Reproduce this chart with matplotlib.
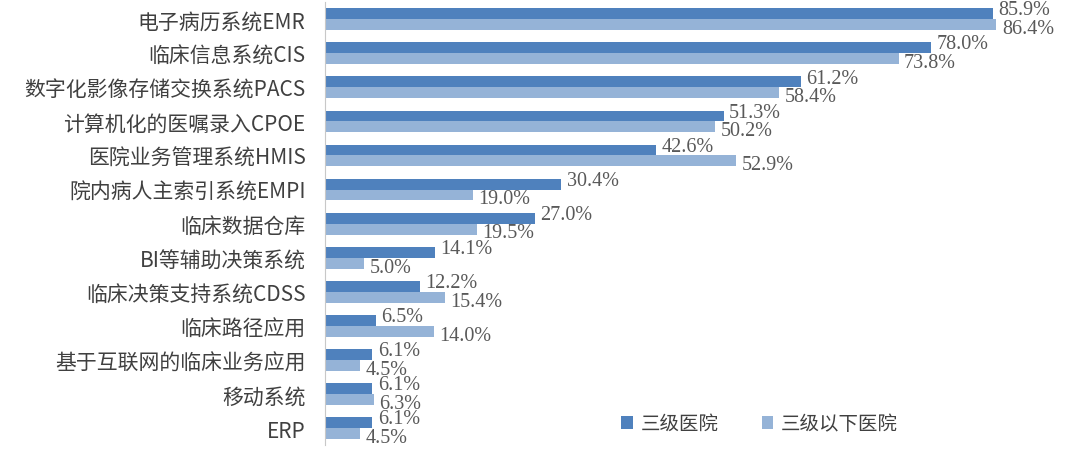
import matplotlib
matplotlib.use("Agg")
import matplotlib.pyplot as plt
import numpy as np

plt.rcParams['font.family'] = ['Noto Sans CJK SC', 'DejaVu Sans']

categories = ['电子病历系统EMR', '临床信息系统CIS', '数字化影像存储交换系统PACS',
              '计算机化的医嘱录入CPOE', '医院业务管理系统HMIS', '院内病人主索引系统EMPI',
              '临床数据仓库', 'BI等辅助决策系统', '临床决策支持系统CDSS', '临床路径应用',
              '基于互联网的临床业务应用', '移动系统', 'ERP']
tier3 = [85.9, 78.0, 61.2, 51.3, 42.6, 30.4, 27.0, 14.1, 12.2, 6.5, 6.1, 6.1, 6.1]
below = [86.4, 73.8, 58.4, 50.2, 52.9, 19.0, 19.5, 5.0, 15.4, 14.0, 4.5, 6.3, 4.5]
series_names = ['三级医院', '三级以下医院']

dark = '#4f81bd'
light = '#95b3d7'

fig = plt.figure(figsize=(10.8, 4.52), dpi=100)
ax = fig.add_axes([325/1080, 0.013, 715/1080, 0.98])

y = np.arange(len(categories))
h = 0.32
b1 = ax.barh(y - h/2, tier3, height=h, color=dark, label=series_names[0])
b2 = ax.barh(y + h/2, below, height=h, color=light, label=series_names[1])

# value labels, dark ones nudged up, light ones down
for bars, vals, dy in ((b1, tier3, 2.8), (b2, below, -2.8)):
    for bar, v in zip(bars, vals):
        ax.annotate(f'{v:.1f}%', (bar.get_width(), bar.get_y() + bar.get_height()/2),
                    xytext=(4, dy), textcoords='offset points', va='center', ha='left',
                    fontsize=14.5, color='#595959', family='Liberation Serif')

ax.set_xlim(0, 92)
ax.set_ylim(len(categories) - 0.5, -0.5)
ax.set_yticks(y)
ax.set_yticklabels(categories, fontsize=15, color='#404040')
ax.tick_params(axis='y', length=0, pad=14)
ax.set_xticks([])
for s in ['top', 'right', 'bottom']:
    ax.spines[s].set_visible(False)
ax.spines['left'].set_color('#c8c8c8')

ax.legend(loc='lower left', bbox_to_anchor=(0.39, -0.015), ncol=2, frameon=False,
          handlelength=0.6, handleheight=0.6, handletextpad=0.4, columnspacing=2.2,
          prop={'family': ['Noto Sans CJK SC', 'DejaVu Sans'], 'size': 14},
          labelcolor='#404040')

fig.savefig('out.png', dpi=100)
